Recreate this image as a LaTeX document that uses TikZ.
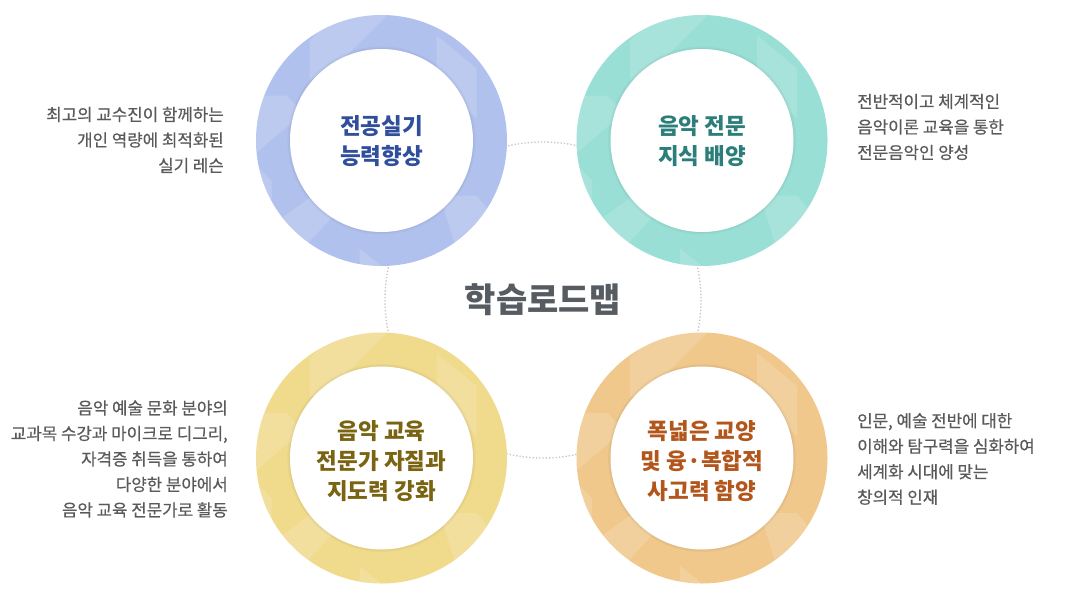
\documentclass[tikz,border=0pt]{standalone}
\usepackage{fontspec}
\setmainfont{Noto Sans CJK KR}
\newfontfamily\sidefont[FakeBold=0.4]{Noto Sans CJK KR}
\definecolor{ringblue}{HTML}{B1C1EE}
\definecolor{ringteal}{HTML}{99DFD5}
\definecolor{ringyellow}{HTML}{F0DA8C}
\definecolor{ringorange}{HTML}{F0C88C}
\definecolor{txtblue}{HTML}{2F4E9C}
\definecolor{txtteal}{HTML}{2B7E7A}
\definecolor{txtolive}{HTML}{7A6412}
\definecolor{txtbrown}{HTML}{B2561C}
\definecolor{txtgray}{HTML}{575C63}
\definecolor{sidegray}{HTML}{5A5A5A}
\definecolor{dotgray}{HTML}{C4C4C4}
\tikzset{
  ringnode/.style={circle, minimum size=251pt, inner sep=0pt, draw=none},
  corenode/.style={circle, minimum size=183pt, inner sep=0pt, fill=white, draw=none},
  coretext/.style={font=\bfseries\fontsize{22.5}{30}\selectfont, align=center, inner sep=0pt},
  sidetext/.style={font=\sidefont\fontsize{16.8}{25.5}\selectfont, text=sidegray, inner sep=0pt},
  facet/.style={fill=white, fill opacity=0.15, draw=none},
}
\newcommand{\facets}[1]{%
  \begin{scope}[shift={(#1)}]
    \clip (0,0) circle (125.5);
    \fill[facet] (-72,-60) -- (-72,-100) -- (-30,-140) -- (20,-140) -- (-45,-75) -- cycle;
    \fill[facet] (55,-105) -- (95,-72) -- (95,-22) -- (55,-60) -- cycle;
    \fill[facet] (-140,-45) -- (-95,-45) -- (-78,-28) -- (-140,25) -- cycle;
    \fill[facet] (-100,78) -- (-62,50) -- (-40,66) -- (-80,110) -- cycle;
    \fill[facet] (58,55) -- (95,55) -- (112,75) -- (76,112) -- cycle;
    \fill[facet] (-22,108) -- (18,140) -- (-22,140) -- cycle;
    \fill[facet] (-140,25) -- (-125,25) -- (-110,40) -- (-110,60) -- (-140,60) -- cycle;
  \end{scope}}
\newcommand{\coreshadow}[1]{%
  \fill[black, opacity=0.03] (#1) circle (94);
  \fill[black, opacity=0.03] (#1) circle (92.5);}
\begin{document}
\begin{tikzpicture}[x=1pt,y=-1pt]
\useasboundingbox[fill=white] (0,0) rectangle (1086,600);
% central dotted circle
\coordinate (mid) at (543,300);
\draw[dotgray, line width=1.3pt, dotted] (mid) circle (158);
% rings
\node[ringnode, fill=ringblue] (r1) at (381.5,140.5) {};
\node[ringnode, fill=ringteal] (r2) at (702,140.5) {};
\node[ringnode, fill=ringyellow] (r3) at (381.5,458) {};
\node[ringnode, fill=ringorange] (r4) at (702,458) {};
\facets{r1}\facets{r2}\facets{r3}\facets{r4}
\coreshadow{r1}\coreshadow{r2}\coreshadow{r3}\coreshadow{r4}
\node[corenode] (c1) at (r1) {};
\node[corenode] (c2) at (r2) {};
\node[corenode] (c3) at (r3) {};
\node[corenode] (c4) at (r4) {};
% circle texts
\node[coretext, text=txtblue] (t1) at (381.5,141) {전공실기\\능력향상};
\node[coretext, text=txtteal] (t2) at (702,141) {음악 전문\\지식 배양};
\node[coretext, text=txtolive] (t3) at (381.5,461) {음악 교육\\전문가 자질과\\지도력 강화};
\node[coretext, text=txtbrown] (t4) at (702,461) {폭넓은 교양\\및 융·복합적\\사고력 함양};
% centre title
\node[font=\bfseries\fontsize{34}{36}\selectfont, text=txtgray, inner sep=0pt] (title) at (mid) {학습로드맵};
% side texts
\node[sidetext, align=right, anchor=east] (s1) at (224,140) {최고의 교수진이 함께하는\\개인 역량에 최적화된\\실기 레슨};
\node[sidetext, align=left, anchor=west] (s2) at (857,127) {전반적이고 체계적인\\음악이론 교육을 통한\\전문음악인 양성};
\node[sidetext, align=right, anchor=east] (s3) at (228,459) {음악 예술 문화 분야의\\교과목 수강과 마이크로 디그리,\\자격증 취득을 통하여\\다양한 분야에서\\음악 교육 전문가로 활동};
\node[sidetext, align=left, anchor=west] (s4) at (857,459) {인문, 예술 전반에 대한\\이해와 탐구력을 심화하여\\세계화 시대에 맞는\\창의적 인재};
\end{tikzpicture}
\end{document}
